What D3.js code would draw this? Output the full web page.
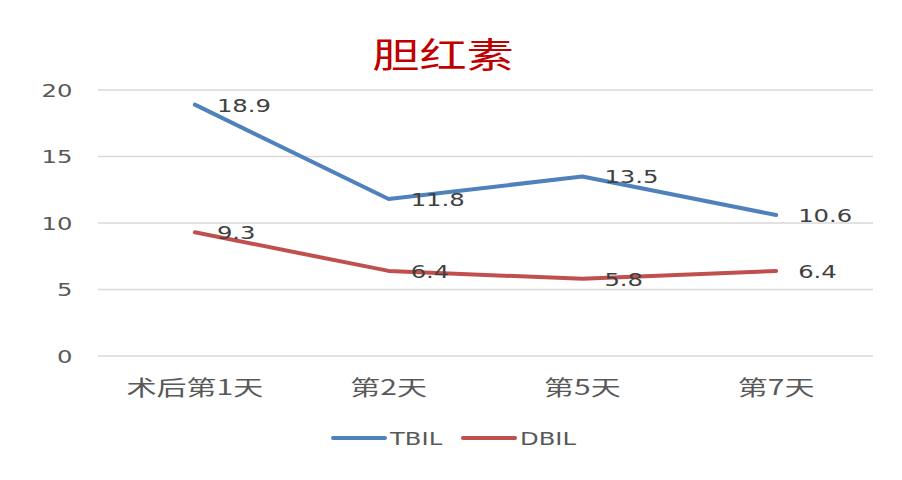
<!DOCTYPE html>
<html>
<head>
<meta charset="utf-8">
<script src="https://cdn.jsdelivr.net/npm/d3@7"></script>
<style>
  body { margin: 0; background: #fff; }
  text { font-family: "DejaVu Sans", "Noto Sans CJK SC", sans-serif; }
</style>
</head>
<body>
<svg id="svg"></svg>
<script>
const svgWidth = 902;
const svgHeight = 480;

// data
const categories = ["术后第1天", "第2天", "第5天", "第7天"];
const tbil = [18.9, 11.8, 13.5, 10.6];
const dbil = [9.3, 6.4, 5.8, 6.4];
const yTicks = [0, 5, 10, 15, 20];
const seriesNames = ["TBIL", "DBIL"];
const seriesColors = ["#4F81BD", "#C0504D"];

// the original rendering is stretched sideways
const sx = 1.35;

let svg = d3.select("#svg");
svg.attr("width", svgWidth).attr("height", svgHeight);

const margin = { top: 90, right: 29, bottom: 124, left: 98 };
const chartWidth = svgWidth - margin.left - margin.right;
const chartHeight = svgHeight - margin.top - margin.bottom;

const chart = svg.append("g")
  .attr("transform", "translate(" + margin.left + "," + margin.top + ")");

const xScale = d3.scaleBand().domain(categories).range([0, chartWidth]);
const yScale = d3.scaleLinear().domain([0, 20]).range([chartHeight, 0]);

// gridlines
chart.selectAll(".grid")
  .data(yTicks)
  .join("line")
  .attr("x1", 0)
  .attr("x2", chartWidth)
  .attr("y1", d => yScale(d))
  .attr("y2", d => yScale(d))
  .attr("stroke", "#D9D9D9")
  .attr("stroke-width", 1.3);

// y axis
const yAxis = chart.append("g")
  .call(d3.axisLeft(yScale).tickValues(yTicks).tickSize(0));
yAxis.select(".domain").remove();
yAxis.selectAll("text")
  .attr("x", -19)
  .attr("dy", "0.35em")
  .attr("transform", `scale(${sx},1)`)
  .style("font-size", "18px")
  .style("font-family", "DejaVu Sans")
  .attr("fill", "#595959");

// x axis
const xAxis = chart.append("g")
  .attr("transform", "translate(0," + chartHeight + ")")
  .call(d3.axisBottom(xScale).tickSize(0));
xAxis.select(".domain").remove();
xAxis.selectAll("text")
  .attr("y", 39)
  .attr("dy", 0)
  .attr("transform", "scale(1.43,1)")
  .style("font-size", "21px")
  .style("font-family", "Noto Sans CJK SC")
  .attr("fill", "#595959");

// lines
const cx = d => xScale(d) + xScale.bandwidth() / 2;
const line = d3.line()
  .x((d, i) => cx(categories[i]))
  .y(d => yScale(d));

[tbil, dbil].forEach((vals, s) => {
  chart.append("path")
    .datum(vals)
    .attr("fill", "none")
    .attr("stroke", seriesColors[s])
    .attr("stroke-width", 4)
    .attr("stroke-linejoin", "round")
    .attr("stroke-linecap", "round")
    .attr("d", line);

  chart.selectAll(".lbl" + s)
    .data(vals)
    .join("text")
    .attr("transform", (d, i) =>
      `translate(${cx(categories[i]) + 22},${yScale(d) + 7}) scale(${sx},1)`)
    .style("font-size", "18px")
    .attr("fill", "#404040")
    .text(d => d.toFixed(1));
});

// title
svg.append("text")
  .attr("transform", `translate(443,68) scale(${sx},1)`)
  .attr("text-anchor", "middle")
  .style("font-family", "Noto Sans CJK SC")
  .style("font-size", "35px")
  .attr("fill", "#C00000")
  .text("胆红素");

// legend
const legend = svg.append("g").attr("transform", "translate(333,438)");
const legendX = [0, 130];
seriesNames.forEach((name, s) => {
  const g = legend.append("g").attr("transform", `translate(${legendX[s]},0)`);
  g.append("line")
    .attr("x1", 0).attr("x2", 52)
    .attr("stroke", seriesColors[s])
    .attr("stroke-width", 4)
    .attr("stroke-linecap", "round");
  g.append("text")
    .attr("transform", `translate(57,7) scale(${sx},1)`)
    .style("font-size", "18px")
    .attr("fill", "#595959")
    .text(name);
});
</script>
</body>
</html>
